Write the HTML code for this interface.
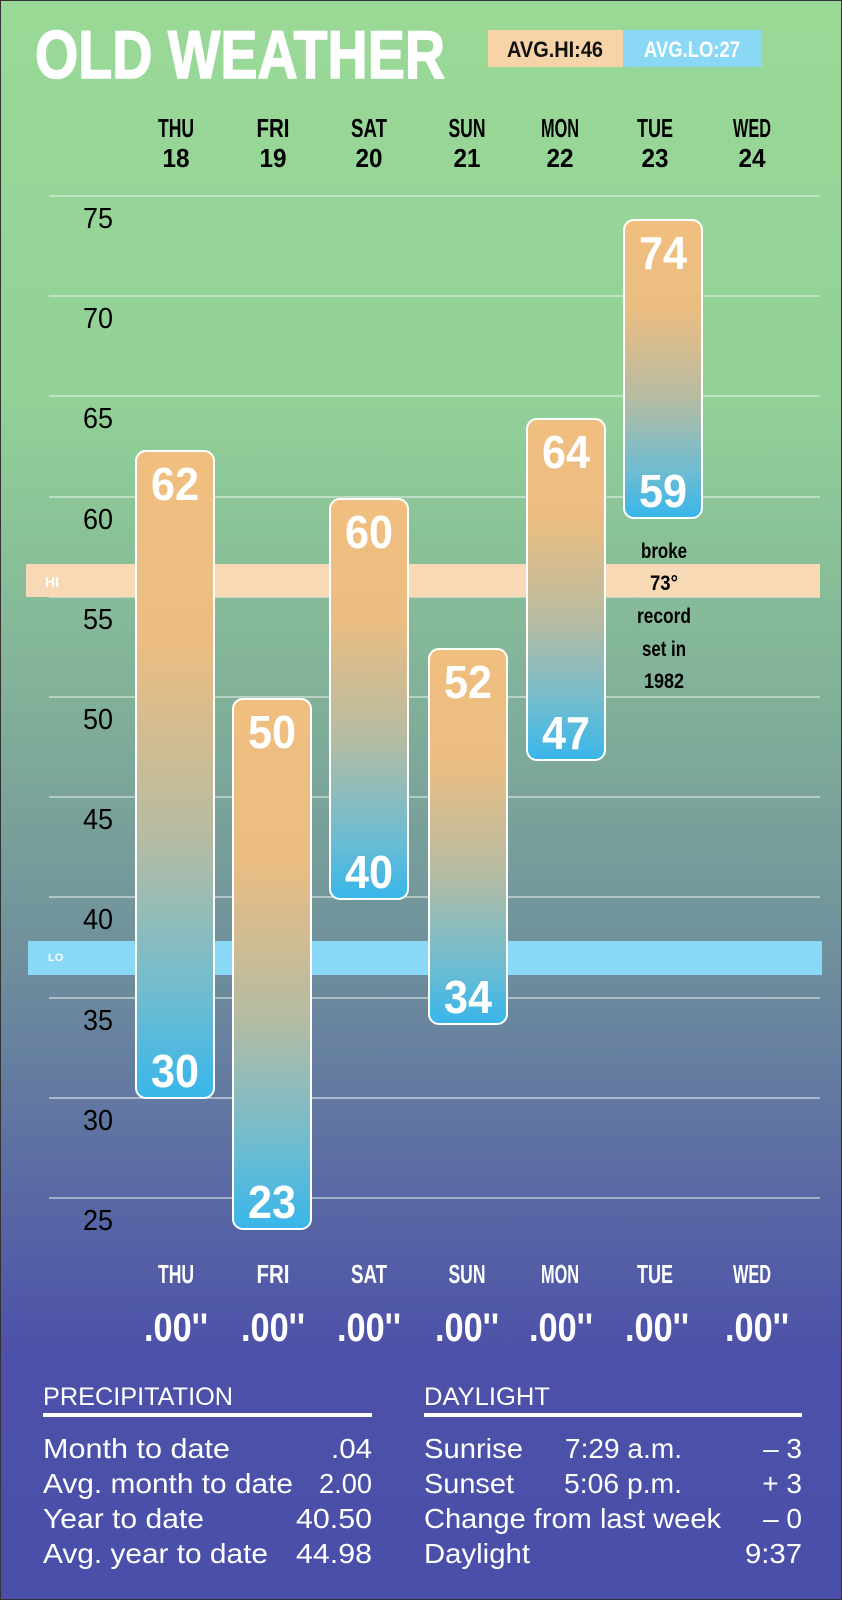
<!DOCTYPE html>
<html><head><meta charset="utf-8"><style>
html,body{margin:0;padding:0}
body{width:842px;height:1600px;overflow:hidden}
svg{display:block}
text{font-family:"Liberation Sans",sans-serif}
</style></head><body>
<svg width="842" height="1600" viewBox="0 0 842 1600" xmlns="http://www.w3.org/2000/svg">
<defs>
<linearGradient id="bg" x1="0" y1="0" x2="0" y2="1">
<stop offset="0" stop-color="#9ad996"/>
<stop offset="0.25" stop-color="#92d198"/>
<stop offset="0.45" stop-color="#80ae99"/>
<stop offset="0.6" stop-color="#6f8f9c"/>
<stop offset="0.72" stop-color="#5d6fa3"/>
<stop offset="0.85" stop-color="#4c50a9"/>
<stop offset="1" stop-color="#4a4fa9"/>
</linearGradient>
<linearGradient id="bar" x1="0" y1="0" x2="0" y2="1">
<stop offset="0" stop-color="#f0bf80"/>
<stop offset="0.3" stop-color="#ebbd82"/>
<stop offset="0.6" stop-color="#b5bca2"/>
<stop offset="0.85" stop-color="#6cbcd2"/>
<stop offset="1" stop-color="#38b6ea"/>
</linearGradient>
</defs>
<rect x="0" y="0" width="842" height="1600" fill="url(#bg)" stroke="#333" stroke-width="2"/>

<text x="35" y="78" font-size="68" font-weight="bold" fill="#fff" stroke="#fff" stroke-width="1.5" textLength="410" lengthAdjust="spacingAndGlyphs">OLD WEATHER</text>
<rect x="488" y="30" width="135" height="37" fill="#f6d4a8"/>
<rect x="623" y="30" width="139" height="37" fill="#8ad8f5"/>
<text x="555" y="57" font-size="22" font-weight="bold" fill="#111" text-anchor="middle" textLength="96" lengthAdjust="spacingAndGlyphs">AVG.HI:46</text>
<text x="692" y="57" font-size="22" font-weight="bold" fill="#fff" text-anchor="middle" textLength="96" lengthAdjust="spacingAndGlyphs">AVG.LO:27</text>

<g font-size="26" font-weight="bold" fill="#000" text-anchor="middle">
<text x="176" y="137" textLength="36" lengthAdjust="spacingAndGlyphs">THU</text><text x="176" y="167" textLength="27" lengthAdjust="spacingAndGlyphs">18</text>
<text x="273" y="137" textLength="33" lengthAdjust="spacingAndGlyphs">FRI</text><text x="273" y="167" textLength="27" lengthAdjust="spacingAndGlyphs">19</text>
<text x="369" y="137" textLength="36" lengthAdjust="spacingAndGlyphs">SAT</text><text x="369" y="167" textLength="27" lengthAdjust="spacingAndGlyphs">20</text>
<text x="467" y="137" textLength="37" lengthAdjust="spacingAndGlyphs">SUN</text><text x="467" y="167" textLength="27" lengthAdjust="spacingAndGlyphs">21</text>
<text x="560" y="137" textLength="38" lengthAdjust="spacingAndGlyphs">MON</text><text x="560" y="167" textLength="27" lengthAdjust="spacingAndGlyphs">22</text>
<text x="655" y="137" textLength="36" lengthAdjust="spacingAndGlyphs">TUE</text><text x="655" y="167" textLength="27" lengthAdjust="spacingAndGlyphs">23</text>
<text x="752" y="137" textLength="38" lengthAdjust="spacingAndGlyphs">WED</text><text x="752" y="167" textLength="27" lengthAdjust="spacingAndGlyphs">24</text>
</g>

<g stroke="#e8f0ea" stroke-width="1.2" opacity="0.85">
<line x1="49" y1="196" x2="820" y2="196"/><line x1="49" y1="296" x2="820" y2="296"/>
<line x1="49" y1="396" x2="820" y2="396"/><line x1="49" y1="497" x2="820" y2="497"/>
<line x1="49" y1="597" x2="820" y2="597"/><line x1="49" y1="697" x2="820" y2="697"/>
<line x1="49" y1="797" x2="820" y2="797"/><line x1="49" y1="897" x2="820" y2="897"/>
<line x1="49" y1="998" x2="820" y2="998"/><line x1="49" y1="1098" x2="820" y2="1098"/>
<line x1="49" y1="1198" x2="820" y2="1198"/>
</g>
<g font-size="29" fill="#000" text-anchor="middle">
<text x="98" y="228" textLength="30" lengthAdjust="spacingAndGlyphs">75</text>
<text x="98" y="328" textLength="30" lengthAdjust="spacingAndGlyphs">70</text>
<text x="98" y="428" textLength="30" lengthAdjust="spacingAndGlyphs">65</text>
<text x="98" y="529" textLength="30" lengthAdjust="spacingAndGlyphs">60</text>
<text x="98" y="629" textLength="30" lengthAdjust="spacingAndGlyphs">55</text>
<text x="98" y="729" textLength="30" lengthAdjust="spacingAndGlyphs">50</text>
<text x="98" y="829" textLength="30" lengthAdjust="spacingAndGlyphs">45</text>
<text x="98" y="929" textLength="30" lengthAdjust="spacingAndGlyphs">40</text>
<text x="98" y="1030" textLength="30" lengthAdjust="spacingAndGlyphs">35</text>
<text x="98" y="1130" textLength="30" lengthAdjust="spacingAndGlyphs">30</text>
<text x="98" y="1230" textLength="30" lengthAdjust="spacingAndGlyphs">25</text>
</g>

<rect x="26" y="564" width="794" height="33" fill="#f7d9b6"/>
<text x="45" y="587" font-size="15" font-weight="bold" fill="#fff" textLength="14" lengthAdjust="spacingAndGlyphs">HI</text>
<rect x="28" y="941" width="794" height="34" fill="#89d8f6"/>
<text x="48" y="961" font-size="11" font-weight="bold" fill="#fff">LO</text>

<g stroke="#fff" stroke-width="2" fill="url(#bar)">
<rect x="136" y="451" width="78" height="647" rx="10"/>
<rect x="233" y="699" width="78" height="530" rx="10"/>
<rect x="330" y="499" width="78" height="400" rx="10"/>
<rect x="429" y="649" width="78" height="375" rx="10"/>
<rect x="527" y="419" width="78" height="341" rx="10"/>
<rect x="624" y="220" width="78" height="298" rx="10"/>
</g>
<g font-size="46" font-weight="bold" fill="#fff" text-anchor="middle">
<text x="175" y="500" textLength="48" lengthAdjust="spacingAndGlyphs">62</text>
<text x="175" y="1087" textLength="48" lengthAdjust="spacingAndGlyphs">30</text>
<text x="272" y="748" textLength="48" lengthAdjust="spacingAndGlyphs">50</text>
<text x="272" y="1218" textLength="48" lengthAdjust="spacingAndGlyphs">23</text>
<text x="369" y="548" textLength="48" lengthAdjust="spacingAndGlyphs">60</text>
<text x="369" y="888" textLength="48" lengthAdjust="spacingAndGlyphs">40</text>
<text x="468" y="698" textLength="48" lengthAdjust="spacingAndGlyphs">52</text>
<text x="468" y="1013" textLength="48" lengthAdjust="spacingAndGlyphs">34</text>
<text x="566" y="468" textLength="48" lengthAdjust="spacingAndGlyphs">64</text>
<text x="566" y="749" textLength="48" lengthAdjust="spacingAndGlyphs">47</text>
<text x="663" y="269" textLength="48" lengthAdjust="spacingAndGlyphs">74</text>
<text x="663" y="507" textLength="48" lengthAdjust="spacingAndGlyphs">59</text>
</g>

<g font-size="21" font-weight="bold" fill="#000" text-anchor="middle">
<text x="664" y="558" textLength="46" lengthAdjust="spacingAndGlyphs">broke</text>
<text x="664" y="590" textLength="28" lengthAdjust="spacingAndGlyphs">73°</text>
<text x="664" y="623" textLength="54" lengthAdjust="spacingAndGlyphs">record</text>
<text x="664" y="656" textLength="44" lengthAdjust="spacingAndGlyphs">set in</text>
<text x="664" y="688" textLength="40" lengthAdjust="spacingAndGlyphs">1982</text>
</g>

<g font-size="26" font-weight="bold" fill="#fff" text-anchor="middle">
<text x="176" y="1283" textLength="36" lengthAdjust="spacingAndGlyphs">THU</text>
<text x="273" y="1283" textLength="33" lengthAdjust="spacingAndGlyphs">FRI</text>
<text x="369" y="1283" textLength="36" lengthAdjust="spacingAndGlyphs">SAT</text>
<text x="467" y="1283" textLength="37" lengthAdjust="spacingAndGlyphs">SUN</text>
<text x="560" y="1283" textLength="38" lengthAdjust="spacingAndGlyphs">MON</text>
<text x="655" y="1283" textLength="36" lengthAdjust="spacingAndGlyphs">TUE</text>
<text x="752" y="1283" textLength="38" lengthAdjust="spacingAndGlyphs">WED</text>
</g>
<g font-size="40" font-weight="bold" fill="#fff" text-anchor="middle">
<text x="176" y="1341" textLength="64" lengthAdjust="spacingAndGlyphs">.00''</text>
<text x="273" y="1341" textLength="64" lengthAdjust="spacingAndGlyphs">.00''</text>
<text x="369" y="1341" textLength="64" lengthAdjust="spacingAndGlyphs">.00''</text>
<text x="467" y="1341" textLength="64" lengthAdjust="spacingAndGlyphs">.00''</text>
<text x="561" y="1341" textLength="64" lengthAdjust="spacingAndGlyphs">.00''</text>
<text x="657" y="1341" textLength="64" lengthAdjust="spacingAndGlyphs">.00''</text>
<text x="757" y="1341" textLength="64" lengthAdjust="spacingAndGlyphs">.00''</text>
</g>

<g fill="#fff">
<text x="43" y="1405" font-size="25" textLength="190" lengthAdjust="spacingAndGlyphs">PRECIPITATION</text>
<rect x="43" y="1413" width="329" height="4"/>
<text x="424" y="1405" font-size="25" textLength="126" lengthAdjust="spacingAndGlyphs">DAYLIGHT</text>
<rect x="424" y="1413" width="378" height="4"/>
<g font-size="28" lengthAdjust="spacingAndGlyphs">
<text x="43" y="1458" textLength="187" lengthAdjust="spacingAndGlyphs">Month to date</text><text x="331" y="1458" textLength="41" lengthAdjust="spacingAndGlyphs">.04</text>
<text x="43" y="1493" textLength="250" lengthAdjust="spacingAndGlyphs">Avg. month to date</text><text x="319" y="1493" textLength="53" lengthAdjust="spacingAndGlyphs">2.00</text>
<text x="43" y="1528" textLength="161" lengthAdjust="spacingAndGlyphs">Year to date</text><text x="296" y="1528" textLength="76" lengthAdjust="spacingAndGlyphs">40.50</text>
<text x="43" y="1563" textLength="225" lengthAdjust="spacingAndGlyphs">Avg. year to date</text><text x="296" y="1563" textLength="76" lengthAdjust="spacingAndGlyphs">44.98</text>
<text x="424" y="1458" textLength="99" lengthAdjust="spacingAndGlyphs">Sunrise</text><text x="565" y="1458" textLength="117" lengthAdjust="spacingAndGlyphs">7:29 a.m.</text><text x="802" y="1458" text-anchor="end">– 3</text>
<text x="424" y="1493" textLength="90" lengthAdjust="spacingAndGlyphs">Sunset</text><text x="564" y="1493" textLength="118" lengthAdjust="spacingAndGlyphs">5:06 p.m.</text><text x="802" y="1493" text-anchor="end">+ 3</text>
<text x="424" y="1528" textLength="297" lengthAdjust="spacingAndGlyphs">Change from last week</text><text x="802" y="1528" text-anchor="end">– 0</text>
<text x="424" y="1563" textLength="106" lengthAdjust="spacingAndGlyphs">Daylight</text><text x="745" y="1563" textLength="57" lengthAdjust="spacingAndGlyphs">9:37</text>
</g>
</g>
</svg>
</body></html>
